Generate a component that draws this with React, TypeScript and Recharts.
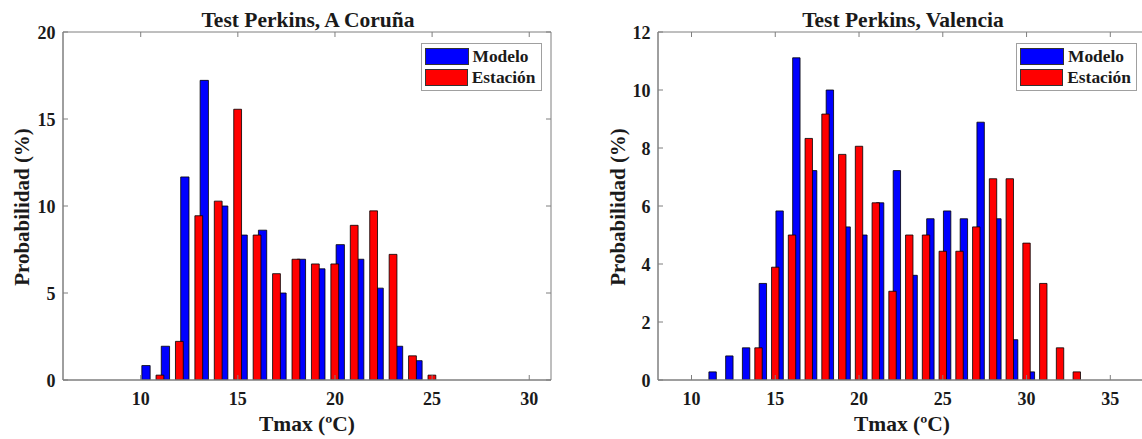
import { Bar, ComposedChart, XAxis, YAxis, ReferenceArea, Legend } from "recharts"

// A Coruña: Tmax bins (ºC) and probability (%)
const coruTemps = [10, 11, 12, 13, 14, 15, 16, 17, 18, 19, 20, 21, 22, 23, 24, 25]
const coruModelo = [0.83, 1.94, 11.67, 17.22, 10.0, 8.33, 8.61, 5.0, 6.94, 6.39, 7.78, 6.94, 5.28, 1.94, 1.11, 0]
const coruEstacion = [0, 0.28, 2.22, 9.44, 10.28, 15.56, 8.33, 6.11, 6.94, 6.67, 6.67, 8.89, 9.72, 7.22, 1.39, 0.28]

// Valencia
const valTemps = [11, 12, 13, 14, 15, 16, 17, 18, 19, 20, 21, 22, 23, 24, 25, 26, 27, 28, 29, 30, 31, 32, 33]
const valModelo = [0.28, 0.83, 1.11, 3.33, 5.83, 11.11, 7.22, 10.0, 5.28, 5.0, 6.11, 7.22, 3.61, 5.56, 5.83, 5.56, 8.89, 5.56, 1.39, 0.28, 0, 0, 0]
const valEstacion = [0, 0, 0, 1.11, 3.89, 5.0, 8.33, 9.17, 7.78, 8.06, 6.11, 3.06, 5.0, 5.0, 4.44, 4.44, 5.28, 6.94, 6.94, 4.72, 3.33, 1.11, 0.28]

const coruXTicks = [10, 15, 20, 25, 30]
const coruYTicks = [0, 5, 10, 15, 20]
const valXTicks = [10, 15, 20, 25, 30, 35]
const valYTicks = [0, 2, 4, 6, 8, 10, 12]

const SERIES = [
  { key: "modelo", name: "Modelo", color: "#0000ff" },
  { key: "estacion", name: "Estación", color: "#ff0000" },
]

const FONT = '"Liberation Serif", "Times New Roman", serif'
const AXIS = "#7f7f7f"
const TEXT = "#1a1a1a"
const PLOT_TOP = 32
const PLOT_BOTTOM = 380
const CHART_H = 439

const LegendBox = () => (
  <div
    style={{
      border: "1px solid #a0a0a0",
      background: "#fff",
      padding: "2px 5px 2px 3px",
      fontFamily: FONT,
      fontWeight: "bold",
      fontSize: 17.4,
      color: TEXT,
      boxSizing: "border-box",
      height: 48,
    }}
  >
    {SERIES.map((s) => (
      <div key={s.key} style={{ display: "flex", alignItems: "center", height: 21.3, whiteSpace: "nowrap" }}>
        <span
          style={{
            display: "inline-block",
            width: 42,
            height: 15,
            background: s.color,
            border: "1px solid #333",
            marginRight: 4,
          }}
        />
        {s.name}
      </div>
    ))}
  </div>
)

type PanelProps = {
  left: number
  width: number
  plotLeft: number
  plotRight: number
  domain: [number, number]
  xTicks: number[]
  yMax: number
  yTicks: number[]
  temps: number[]
  modelo: number[]
  estacion: number[]
  shifts: number[]
  sizes: number[]
  legendLeft: number
}

function Panel(props: PanelProps) {
  const { left, width, plotLeft, plotRight, domain, xTicks, yMax, yTicks, temps, modelo, estacion } = props
  const data = temps.map((t, i) => ({ t, modelo: modelo[i], estacion: estacion[i] }))
  const layer = { position: "absolute" as const, left: 0, top: 0 }

  const XTick = ({ x, payload }: any) => (
    <g>
      <line x1={x} x2={x} y1={PLOT_BOTTOM} y2={PLOT_BOTTOM - 5} stroke={AXIS} />
      <line x1={x} x2={x} y1={PLOT_TOP} y2={PLOT_TOP + 5} stroke={AXIS} />
      <text x={x} y={405} textAnchor="middle" fontFamily={FONT} fontWeight="bold" fontSize={18} fill={TEXT}>
        {payload.value}
      </text>
    </g>
  )

  const YTick = ({ y, payload }: any) => (
    <g>
      <line x1={plotLeft} x2={plotLeft + 5} y1={y} y2={y} stroke={AXIS} />
      <line x1={plotRight} x2={plotRight - 5} y1={y} y2={y} stroke={AXIS} />
      <text x={plotLeft - 7.5} y={y + 6.5} textAnchor="end" fontFamily={FONT} fontWeight="bold" fontSize={18} fill={TEXT}>
        {payload.value}
      </text>
    </g>
  )

  const barMargin = { top: PLOT_TOP, right: width - plotRight, bottom: CHART_H - PLOT_BOTTOM, left: plotLeft }

  return (
    <div style={{ position: "absolute", left, top: 0, width, height: CHART_H }}>
      {/* one layer per series: blue underneath, red on top, each offset within its bin */}
      {SERIES.map((s, i) => (
        <div key={s.key} style={layer}>
          <ComposedChart width={width} height={CHART_H} data={data} margin={barMargin}>
            <XAxis
              type="number"
              dataKey="t"
              domain={[domain[0] - props.shifts[i], domain[1] - props.shifts[i]]}
              allowDataOverflow
              hide
            />
            <YAxis type="number" domain={[0, yMax]} allowDataOverflow hide />
            <Bar
              dataKey={s.key}
              name={s.name}
              fill={s.color}
              stroke="#000"
              strokeWidth={0.8}
              barSize={props.sizes[i]}
              isAnimationActive={false}
            />
          </ComposedChart>
        </div>
      ))}
      <div style={layer}>
        <ComposedChart
          width={width}
          height={CHART_H}
          data={data}
          margin={{ top: PLOT_TOP, right: width - plotRight, bottom: 0, left: 0 }}
        >
          <XAxis
            type="number"
            dataKey="t"
            domain={domain}
            ticks={xTicks}
            allowDataOverflow
            height={CHART_H - PLOT_BOTTOM}
            tick={<XTick />}
            tickLine={false}
            axisLine={{ stroke: AXIS }}
          />
          <YAxis
            type="number"
            domain={[0, yMax]}
            ticks={yTicks}
            allowDataOverflow
            width={plotLeft}
            tick={<YTick />}
            tickLine={false}
            axisLine={{ stroke: AXIS }}
          />
          <ReferenceArea
            x1={domain[0]}
            x2={domain[1]}
            y1={0}
            y2={yMax}
            fill="none"
            stroke={AXIS}
            strokeWidth={1}
            ifOverflow="visible"
          />
          <Legend
            layout="vertical"
            align="center"
            verticalAlign="middle"
            content={<LegendBox />}
            wrapperStyle={{ position: "absolute", left: props.legendLeft, top: 42.7, width: 121, height: 48 }}
          />
        </ComposedChart>
      </div>
    </div>
  )
}

export default function App() {
  return (
    <div style={{ position: "absolute", left: 0, top: 0, width: 1142, height: 439, overflow: "hidden", background: "#fff" }}>
      <Panel
        left={0}
        width={570}
        plotLeft={63}
        plotRight={551}
        domain={[6, 31.12]}
        xTicks={coruXTicks}
        yMax={20}
        yTicks={coruYTicks}
        temps={coruTemps}
        modelo={coruModelo}
        estacion={coruEstacion}
        shifts={[0.25, -0.02]}
        sizes={[8.3, 7.8]}
        legendLeft={420.5}
      />
      <Panel
        left={590}
        width={580}
        plotLeft={68}
        plotRight={558}
        domain={[8, 37.25]}
        xTicks={valXTicks}
        yMax={12}
        yTicks={valYTicks}
        temps={valTemps}
        modelo={valModelo}
        estacion={valEstacion}
        shifts={[0.24, -0.02]}
        sizes={[7.4, 7.4]}
        legendLeft={426}
      />
      <svg width={1142} height={439} style={{ position: "absolute", left: 0, top: 0, pointerEvents: "none" }}>
        <g fontFamily={FONT} fontWeight="bold" fill={TEXT}>
          <text x={308} y={27} textAnchor="middle" fontSize={21.5}>Test Perkins, A Coruña</text>
          <text x={903} y={27} textAnchor="middle" fontSize={21.5}>Test Perkins, Valencia</text>
          <text x={307} y={431} textAnchor="middle" fontSize={21.5}>Tmax (ºC)</text>
          <text x={902} y={431} textAnchor="middle" fontSize={21.5}>Tmax (ºC)</text>
          <text transform="translate(28.5,207) rotate(-90)" textAnchor="middle" fontSize={21}>Probabilidad (%)</text>
          <text transform="translate(624.5,207) rotate(-90)" textAnchor="middle" fontSize={21}>Probabilidad (%)</text>
        </g>
      </svg>
    </div>
  )
}
